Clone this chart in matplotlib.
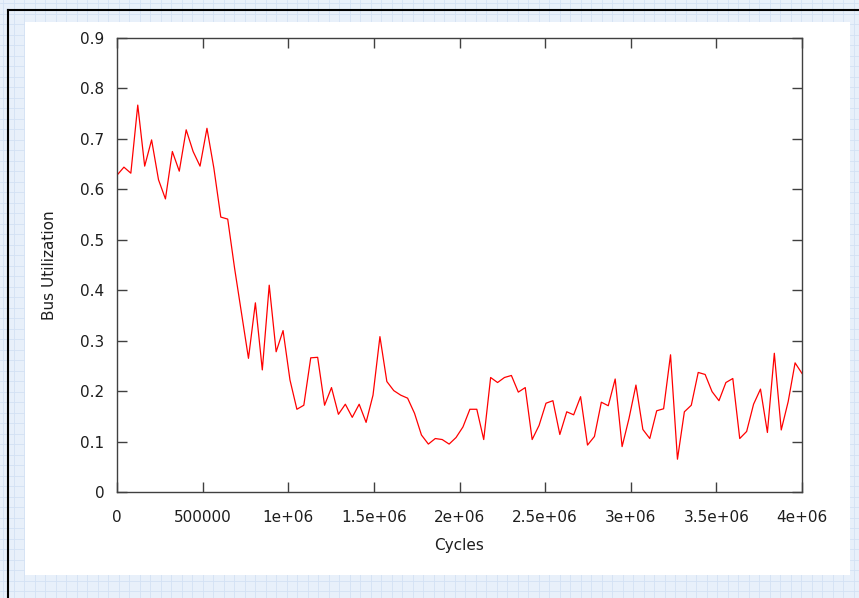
import numpy as np
import matplotlib
matplotlib.use("Agg")
import matplotlib.pyplot as plt
from matplotlib.patches import Rectangle
from matplotlib.lines import Line2D

# Sampled bus utilization over the simulation run
n_samples = 100
max_cycles = 4e6
bus_utilization = [
    0.628, 0.644, 0.632, 0.767, 0.646, 0.698, 0.619, 0.581, 0.675, 0.636,
    0.718, 0.675, 0.646, 0.721, 0.642, 0.545, 0.541, 0.443, 0.354, 0.265,
    0.375, 0.242, 0.410, 0.278, 0.320, 0.222, 0.164, 0.172, 0.266, 0.267,
    0.172, 0.207, 0.154, 0.174, 0.148, 0.174, 0.138, 0.192, 0.308, 0.219,
    0.201, 0.192, 0.186, 0.156, 0.113, 0.095, 0.106, 0.104, 0.095, 0.108,
    0.129, 0.164, 0.164, 0.104, 0.227, 0.217, 0.227, 0.231, 0.198, 0.207,
    0.104, 0.132, 0.176, 0.181, 0.114, 0.159, 0.153, 0.189, 0.093, 0.110,
    0.178, 0.171, 0.224, 0.090, 0.146, 0.212, 0.124, 0.106, 0.161, 0.165,
    0.272, 0.065, 0.159, 0.172, 0.237, 0.233, 0.199, 0.181, 0.217, 0.225,
    0.106, 0.120, 0.174, 0.204, 0.118, 0.275, 0.123, 0.179, 0.256, 0.235,
]
cycles = np.linspace(0, max_cycles, n_samples)

x_ticks = [0, 500000, 1e6, 1.5e6, 2e6, 2.5e6, 3e6, 3.5e6, 4e6]
x_tick_labels = ["0", "500000", "1e+06", "1.5e+06", "2e+06", "2.5e+06",
                 "3e+06", "3.5e+06", "4e+06"]
y_ticks = [0, 0.1, 0.2, 0.3, 0.4, 0.5, 0.6, 0.7, 0.8, 0.9]
y_tick_labels = ["0", "0.1", "0.2", "0.3", "0.4", "0.5", "0.6", "0.7", "0.8", "0.9"]

W, H = 859, 598
fig = plt.figure(figsize=(W / 100, H / 100), dpi=100)
fig.patch.set_facecolor("#e8f0fa")

# Graph-paper backdrop with a white plotting panel
bg = fig.add_axes([0, 0, 1, 1], zorder=-10)
bg.set_xlim(0, W)
bg.set_ylim(H, 0)
bg.set_axis_off()
grid_col = "#d3e1f4"
for gx in np.arange(3, W, 10.5):
    bg.add_line(Line2D([gx, gx], [0, H], color=grid_col, lw=0.6, zorder=1))
for gy in np.arange(3, H, 10.5):
    bg.add_line(Line2D([0, W], [gy, gy], color=grid_col, lw=0.6, zorder=1))
bg.add_patch(Rectangle((25, 22), 825, 553, facecolor="white", edgecolor="none", zorder=5))
bg.add_line(Line2D([7.5, 7.5], [9.5, H], color="black", lw=1.5, zorder=6))
bg.add_line(Line2D([7.5, W], [9.5, 9.5], color="black", lw=1.5, zorder=6))

left, right, top, bottom = 117, 802, 38, 492
ax = fig.add_axes([left / W, 1 - bottom / H, (right - left) / W, (bottom - top) / H])
ax.set_facecolor("white")

ax.plot(cycles, bus_utilization, color="#ff0000", lw=0.9)

ax.set_xlim(0, max_cycles)
ax.set_ylim(0, 0.9)
ax.set_xticks(x_ticks)
ax.set_xticklabels(x_tick_labels)
ax.set_yticks(y_ticks)
ax.set_yticklabels(y_tick_labels)

text_col = "#1e1e1e"
axis_col = "#404040"
for s in ax.spines.values():
    s.set_color(axis_col)
    s.set_linewidth(1.0)
ax.tick_params(axis="both", direction="in", length=7, width=1.0, color=axis_col,
               top=True, right=True, labelsize=11, labelcolor=text_col)
ax.tick_params(axis="y", pad=9)
ax.tick_params(axis="x", pad=13)

ax.set_xlabel("Cycles", fontsize=11, color=text_col, labelpad=9)
ax.set_ylabel("Bus Utilization", fontsize=11, color=text_col, labelpad=17)

fig.savefig("out.png", dpi=100, facecolor=fig.get_facecolor())
